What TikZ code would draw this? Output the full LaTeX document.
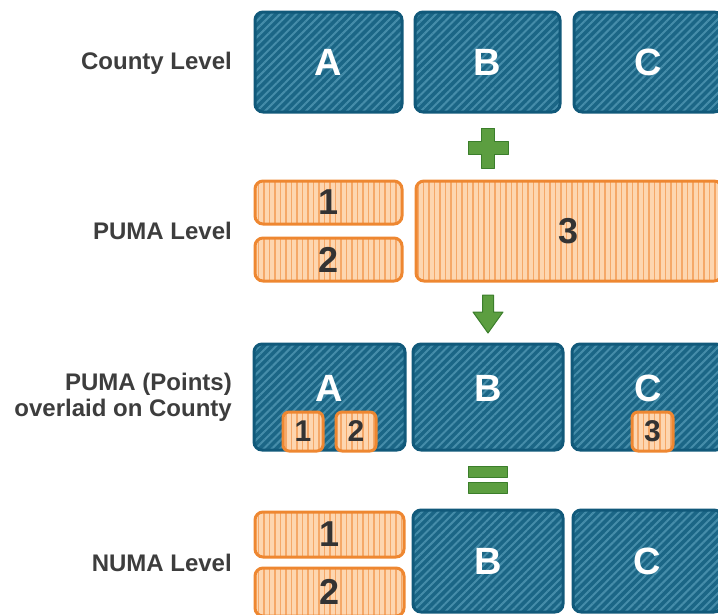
\documentclass[tikz,border=0pt]{standalone}
\usepackage{fontspec}
\setmainfont{Liberation Sans}
\usetikzlibrary{patterns.meta}

\definecolor{countyfill}{HTML}{1B6686}
\definecolor{countystripe}{HTML}{468DAA}
\definecolor{countyedge}{HTML}{11597A}
\definecolor{pumafill}{HTML}{FDD6B0}
\definecolor{pumastripe}{HTML}{F5A868}
\definecolor{pumaedge}{HTML}{EE8731}
\definecolor{opgreen}{HTML}{5C9E40}
\definecolor{opedge}{HTML}{3B7E2B}
\definecolor{labelgray}{HTML}{3D3D3D}
\definecolor{digitgray}{HTML}{333333}

\tikzset{
  county/.style={draw=countyedge, line width=3pt, rounded corners=8pt,
    inner sep=0pt, outer sep=0pt, preaction={fill=countyfill},
    pattern={Lines[angle=45,distance=5.8pt,line width=2pt]},
    pattern color=countystripe,
    text=white, font=\bfseries\fontsize{38}{38}\selectfont},
  countytext/.style={text=white, inner sep=0pt,
    font=\bfseries\fontsize{38}{38}\selectfont},
  puma/.style={draw=pumaedge, line width=3pt, rounded corners=8pt,
    inner sep=0pt, outer sep=0pt, preaction={fill=pumafill},
    pattern={Lines[angle=90,distance=5.5pt,line width=1.5pt]},
    pattern color=pumastripe,
    text=digitgray, font=\bfseries\fontsize{36}{36}\selectfont},
  point/.style={puma, rounded corners=6pt,
    font=\bfseries\fontsize{30}{30}\selectfont,
    minimum width=40pt, minimum height=39pt},
  level/.style={text=labelgray, font=\bfseries\fontsize{24}{26}\selectfont,
    anchor=east, align=right, inner sep=0pt},
  sign/.style={fill=opgreen, draw=opedge, line width=1pt, line join=round},
}

\begin{document}
\begin{tikzpicture}[x=1pt, y=-1pt]
  \useasboundingbox (0,0) rectangle (718,614);
  \clip (0,0) rectangle (718,614);

  % row labels
  \node[level] (lcounty) at (232,63) {County Level};
  \node[level] (lpuma)   at (232,231) {PUMA Level};
  \node[level] (lover)   at (232,397) {PUMA (Points)\\overlaid on County};
  \node[level] (lnuma)   at (232,563) {NUMA Level};

  % county level
  \node[county, minimum width=147pt, minimum height=100pt] (ca) at (328.5,62) {A};
  \node[county, minimum width=145pt, minimum height=100pt] (cb) at (487.5,62) {B};
  \node[county, minimum width=148pt, minimum height=100pt] (cc) at (648,62) {C};

  % plus sign
  \draw[sign] (481.5,128) -- (494.5,128) -- (494.5,141.5) -- (508,141.5)
    -- (508,154.5) -- (494.5,154.5) -- (494.5,168) -- (481.5,168)
    -- (481.5,154.5) -- (468,154.5) -- (468,141.5) -- (481.5,141.5) -- cycle;

  % PUMA level
  \node[puma, minimum width=147pt, minimum height=43pt] (p1) at (328.5,202.5) {1};
  \node[puma, minimum width=147pt, minimum height=43pt] (p2) at (328.5,259.5) {2};
  \node[puma, minimum width=306pt, minimum height=100pt] (p3) at (569,231) {3};

  % down arrow
  \draw[sign] (482.5,295) -- (493.5,295) -- (493.5,312) -- (503,312)
    -- (488,333) -- (473,312) -- (482.5,312) -- cycle;

  % PUMA points overlaid on counties
  \node[county, minimum width=151pt, minimum height=106pt] (oa) at (329.5,397) {};
  \node[county, minimum width=150pt, minimum height=106pt] (ob) at (488,397) {};
  \node[county, minimum width=152pt, minimum height=106pt] (oc) at (648,397) {};
  \node[countytext] (oat) at (329.5,388) {A};
  \node[countytext] (obt) at (488,388) {B};
  \node[countytext] (oct) at (648,388) {C};
  \node[point] (s1) at (303,431.5) {1};
  \node[point] (s2) at (356,431.5) {2};
  \node[point, minimum width=41pt] (s3) at (652.5,431.5) {3};

  % equals sign
  \draw[sign] (468,466) rectangle (507,477);
  \draw[sign] (468,482) rectangle (507,493);

  % NUMA level
  \node[puma, minimum width=149pt, minimum height=45pt] (n1) at (329.5,534.5) {1};
  \node[puma, minimum width=149pt, minimum height=48pt] (n2) at (329.5,592) {2};
  \node[county, minimum width=150pt, minimum height=102pt] (nb) at (488,561) {B};
  \node[county, minimum width=149pt, minimum height=102pt] (nc) at (647.5,561) {C};
\end{tikzpicture}
\end{document}
